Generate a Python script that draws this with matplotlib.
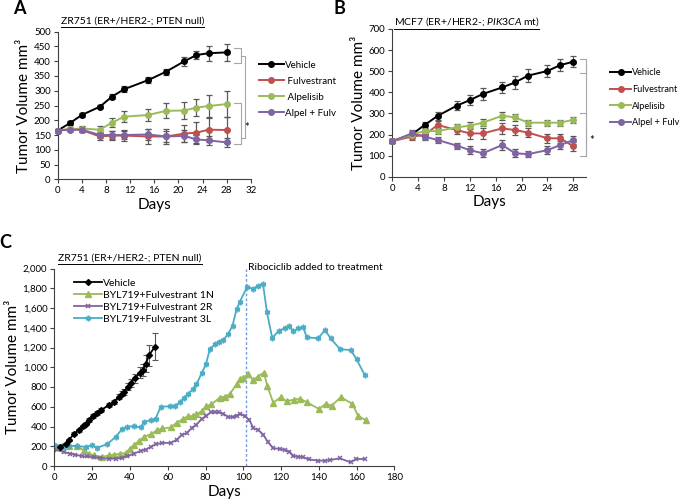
import numpy as np
import matplotlib
matplotlib.use("Agg")
import matplotlib.pyplot as plt
from matplotlib.lines import Line2D
from matplotlib.ticker import FuncFormatter

plt.rcParams['font.family'] = ['Lato', 'DejaVu Sans']
plt.rcParams['mathtext.fontset'] = 'custom'
plt.rcParams['mathtext.rm'] = 'Lato'
plt.rcParams['mathtext.it'] = 'Lato:italic'

# colours (Excel palette)
BLACK = '#000000'
RED = '#c0504d'
GREEN = '#9bbb59'
PURPLE = '#8064a2'
CYAN = '#4bacc6'
ERR = '#595959'

# ---- panel A data: ZR751
a_days = [0, 2, 4, 7, 9, 11, 15, 18, 21, 23, 25, 28]
a_vehicle = [165, 190, 218, 246, 280, 305, 336, 365, 400, 421, 427, 430]
a_vehicle_err = [5, 6, 6, 6, 8, 10, 10, 10, 15, 15, 25, 30]
a_fulv = [165, 170, 167, 145, 148, 148, 145, 145, 155, 158, 168, 167]
a_fulv_err = [5, 5, 8, 12, 15, 18, 25, 25, 30, 35, 40, 45]
a_alpel = [165, 170, 172, 168, 192, 212, 218, 232, 233, 243, 248, 255]
a_alpel_err = [5, 5, 8, 12, 15, 18, 20, 25, 28, 30, 38, 45]
a_combo = [165, 168, 168, 150, 150, 150, 152, 145, 147, 135, 132, 125]
a_combo_err = [5, 5, 8, 10, 12, 15, 18, 20, 20, 15, 15, 15]

# ---- panel B data: MCF7
b_days = [0, 3, 5, 7, 10, 12, 14, 17, 19, 21, 24, 26, 28]
b_vehicle = [168, 200, 245, 288, 337, 363, 392, 423, 447, 479, 501, 529, 545]
b_vehicle_err = [10, 12, 15, 18, 22, 25, 30, 28, 30, 32, 30, 28, 25]
b_fulv = [168, 190, 198, 245, 221, 205, 205, 229, 221, 209, 182, 182, 144]
b_fulv_err = [10, 18, 20, 20, 20, 25, 25, 25, 25, 20, 20, 20, 20]
b_alpel = [168, 200, 216, 216, 234, 242, 256, 289, 281, 256, 256, 256, 270]
b_alpel_err = [10, 12, 12, 15, 15, 15, 18, 18, 18, 15, 15, 15, 15]
b_combo = [168, 205, 190, 174, 147, 126, 111, 150, 111, 107, 126, 150, 174]
b_combo_err = [10, 15, 15, 15, 15, 18, 20, 25, 20, 15, 20, 20, 20]

ab_labels = ['Vehicle', ' Fulvestrant', ' Alpelisib', 'Alpel + Fulv']

# ---- panel C data: long-term ZR751
c_veh_days = [3, 6, 7.6, 10.6, 12.9, 15.2, 16.5, 18.2, 20.5, 22.7, 24.8, 28.8, 31.5,
              34.2, 35.7, 36.8, 38.9, 40.7, 42.5, 45.5, 46.8, 48.4, 50.1, 53.3]
c_veh = [195, 224, 261, 329, 363, 403, 430, 464, 505, 539, 566, 617, 651,
         702, 734, 750, 803, 844, 888, 945, 972, 1037, 1122, 1210]
c_veh_err = [10, 10, 12, 12, 15, 15, 15, 18, 18, 18, 20, 20, 22,
             25, 28, 30, 35, 40, 45, 55, 65, 85, 105, 137]

c_1n_days = [0, 4, 8, 12, 15.6, 18.2, 20.9, 25.3, 28.8, 31.5, 35, 37.7, 40, 42, 44.8,
             47.4, 51, 54.5, 57.2, 61.6, 64.7, 68.2, 70.9, 73.5, 75.2, 77.9, 80.5,
             83.1, 87.5, 90.2, 92.8, 96.4, 98.1, 99.8, 102.6, 105.1, 107.7, 110.9,
             112.7, 115.9, 119.7, 122.9, 126.8, 130, 133.5, 140, 143.6, 146.8,
             151.6, 157.7, 160.7, 164.8]
c_1n = [200, 205, 205, 200, 159, 125, 108, 92, 108, 115, 125, 132, 176, 210, 254,
        295, 322, 363, 380, 390, 437, 478, 505, 505, 522, 556, 607,
        624, 692, 703, 726, 828, 879, 896, 928, 869, 906, 946,
        810, 639, 697, 656, 673, 683, 646, 578, 629, 612,
        697, 629, 510, 463]

c_2r_days = [0, 5, 8.5, 11.2, 14.7, 17.3, 20.9, 24.4, 28.8, 32.4, 35.9, 38.6, 42.1,
             45.7, 48.3, 51, 53.6, 57.2, 61.6, 64.7, 67.4, 70, 72.7, 75.2, 77.9,
             80.2, 82.7, 85, 87.2, 89.4, 92, 94.3, 96.4, 98.5, 100.8, 103.1, 105.3,
             107.9, 110.6, 113.2, 115.9, 119.4, 122, 124.4, 126.5, 129.1, 131.8,
             134.5, 139.6, 143.1, 146.1, 151, 156.8, 159.8, 164.2]
c_2r = [166, 142, 125, 115, 98, 98, 92, 81, 75, 75, 81, 98, 125,
        153, 166, 193, 220, 234, 234, 265, 316, 333, 384, 418, 476,
        503, 544, 544, 544, 530, 496, 496, 510, 530, 503, 469, 384,
        367, 316, 238, 180, 173, 163, 146, 102, 95, 88,
        68, 54, 54, 61, 78, 37, 71, 71]

c_3l_days = [0, 5, 8, 12, 16.5, 20, 22.6, 28, 32.4, 35.9, 38.6, 42.1, 45.7, 47.4,
             51, 53.6, 56.3, 61.4, 63.9, 66.5, 68.6, 70.9, 73.2, 75.2, 77.9, 80.2,
             82.3, 85, 87.2, 89.4, 92, 94.3, 96.4, 98.1, 102, 105.1, 107.7, 110.4,
             112.5, 115.3, 118.8, 121.8, 124.4, 126.5, 129.1, 131.8, 133.5, 139.7,
             143.2, 146.2, 151.1, 156.9, 159.9, 164.3]
c_3l = [217, 200, 203, 203, 193, 210, 186, 220, 295, 373, 397, 403, 390, 447,
        464, 481, 600, 605, 612, 646, 690, 734, 775, 826, 938, 1030,
        1183, 1234, 1258, 1278, 1336, 1421, 1585, 1660, 1813, 1796, 1823, 1847,
        1558, 1296, 1371, 1394, 1415, 1365, 1395, 1405, 1303, 1293,
        1378, 1293, 1184, 1173, 1082, 918]

c_labels = ['Vehicle', 'BYL719+Fulvestrant 1N', 'BYL719+Fulvestrant 2R', 'BYL719+Fulvestrant 3L']
ribociclib_day = 101.5

fig = plt.figure(figsize=(6.85, 5.0), dpi=100)


def style_axes(ax):
    for s in ['top', 'right']:
        ax.spines[s].set_visible(False)
    for s in ['left', 'bottom']:
        ax.spines[s].set_color('#404040')
        ax.spines[s].set_linewidth(0.8)
    ax.tick_params(direction='out', length=3, width=0.8, color='#404040',
                   labelsize=7, pad=2)


def underlined(x, y, text, size=7.5):
    t = fig.text(x, y, text, ha='center', va='center', fontsize=size)
    fig.canvas.draw()
    bb = t.get_window_extent().transformed(fig.transFigure.inverted())
    fig.add_artist(Line2D([bb.x0, bb.x1], [bb.y0 - 0.002, bb.y0 - 0.002],
                          transform=fig.transFigure, color='black', lw=0.7))


def bracket(ax, x0, x1, ylo, yhi):
    ax.plot([x0, x1, x1, x0], [yhi, yhi, ylo, ylo], color='#a6a6a6', lw=0.8,
            clip_on=False)


def growth_panel(ax, days, series, errs):
    colors = [BLACK, RED, GREEN, PURPLE]
    handles = []
    for vals, err, col, lab in zip(series, errs, colors, ab_labels):
        ax.errorbar(days, vals, yerr=err, color=col, ecolor=ERR, elinewidth=0.9,
                    capsize=2.2, capthick=0.9, marker='o', ms=4, lw=1.4,
                    clip_on=False, zorder=3)
        handles.append(Line2D([], [], color=col, marker='o', ms=4, lw=1.4, label=lab))
    style_axes(ax)
    ax.set_xlabel('Days', fontsize=11, labelpad=2)
    ax.set_ylabel('Tumor Volume mm³', fontsize=11, labelpad=2)
    return handles


# ---- panel A
axA = fig.add_axes([0.0842, 0.6414, 0.2819, 0.2952])
hA = growth_panel(axA, a_days, [a_vehicle, a_fulv, a_alpel, a_combo],
                  [a_vehicle_err, a_fulv_err, a_alpel_err, a_combo_err])
axA.set_xlim(0, 32)
axA.set_xticks(np.arange(0, 33, 4))
axA.set_ylim(0, 500)
axA.set_yticks(np.arange(0, 501, 50))
bracket(axA, 29.2, 30.3, 395, 445)
bracket(axA, 29.2, 30.3, 120, 258)
axA.plot([30.3, 31.0, 31.0, 30.3], [418, 418, 140, 140], color='#a6a6a6', lw=0.8,
         clip_on=False)
axA.text(31.4, 176, '*', fontsize=8, ha='center', va='center')
axA.legend(handles=hA, loc='upper left', bbox_to_anchor=(1.02, 0.83), frameon=False,
           fontsize=7, handlelength=2.6, handletextpad=0.1, labelspacing=0.72,
           borderaxespad=0)

# ---- panel B
axB = fig.add_axes([0.5727, 0.6466, 0.2831, 0.2954])
hB = growth_panel(axB, b_days, [b_vehicle, b_fulv, b_alpel, b_combo],
                  [b_vehicle_err, b_fulv_err, b_alpel_err, b_combo_err])
axB.set_xlim(0, 30)
axB.set_xticks(np.arange(0, 29, 4))
axB.set_ylim(0, 700)
axB.set_yticks(np.arange(0, 701, 100))
bracket(axB, 29.0, 30.0, 492, 558)
bracket(axB, 29.0, 30.0, 98, 300)
axB.plot([30.0, 30.0], [525, 98], color='#a6a6a6', lw=0.8, clip_on=False)
axB.text(30.8, 170, '*', fontsize=8, ha='center', va='center')
axB.legend(handles=[Line2D([], [], color=h.get_color(), marker='o', ms=4, lw=1.4,
                           label=h.get_label().strip()) for h in hB],
           loc='upper left', bbox_to_anchor=(1.105, 0.76), frameon=False,
           fontsize=6.6, handlelength=2.3, handletextpad=0.1, labelspacing=0.85,
           borderaxespad=0)

# ---- panel C
axC = fig.add_axes([0.0793, 0.068, 0.4966, 0.395])
axC.errorbar(c_veh_days, c_veh, yerr=c_veh_err, color=BLACK, ecolor=ERR,
             elinewidth=0.8, capsize=2, capthick=0.8, marker='D', ms=3, lw=1.3,
             zorder=4)
axC.plot(c_1n_days, c_1n, color=GREEN, marker='^', ms=4, lw=1.3)
axC.plot(c_2r_days, c_2r, color=PURPLE, marker='x', ms=3.5, mew=1.1, lw=1.3)
axC.plot(c_3l_days, c_3l, color=CYAN, marker=(6, 2, 0), ms=4, mew=1.1, lw=1.3)
axC.axvline(ribociclib_day, color='#6f9fd8', ls=(0, (2, 1.5)), lw=1.0, zorder=1)
axC.text(ribociclib_day + 1.2, 2010, 'Ribociclib added to treatment', fontsize=7.5,
         ha='left', va='center')
style_axes(axC)
axC.set_xlim(0, 180)
axC.set_xticks(np.arange(0, 181, 20))
axC.set_ylim(0, 2000)
axC.set_yticks(np.arange(0, 2001, 200))
axC.yaxis.set_major_formatter(FuncFormatter(lambda v, p: f'{int(v):,}'))
axC.set_xlabel('Days', fontsize=11, labelpad=2)
axC.set_ylabel('Tumor Volume mm³', fontsize=11, labelpad=2)
hC = [Line2D([], [], color=BLACK, marker='D', ms=3, lw=1.3, label=c_labels[0]),
      Line2D([], [], color=GREEN, marker='^', ms=4, lw=1.3, label=c_labels[1]),
      Line2D([], [], color=PURPLE, marker='x', ms=3.5, mew=1.1, lw=1.3, label=c_labels[2]),
      Line2D([], [], color=CYAN, marker=(6, 2, 0), ms=4, mew=1.1, lw=1.3, label=c_labels[3])]
axC.legend(handles=hC, loc='upper left', bbox_to_anchor=(0.045, 0.97), frameon=False,
           fontsize=7.5, handlelength=2.7, handletextpad=0.1, labelspacing=0.25,
           borderaxespad=0)

# ---- titles and panel letters
underlined(0.193, 0.957, 'ZR751 (ER+/HER2-; PTEN null)')
underlined(0.681, 0.957, r'MCF7 (ER+/HER2-; $\mathit{PIK3CA}$ mt)')
underlined(0.19, 0.484, 'ZR751 (ER+/HER2-; PTEN null)')
fig.text(0.028, 0.984, 'A', fontsize=13, fontweight='bold', ha='center', va='center')
fig.text(0.496, 0.984, 'B', fontsize=13, fontweight='bold', ha='center', va='center')
fig.text(0.008, 0.516, 'C', fontsize=13, fontweight='bold', ha='center', va='center')

fig.savefig('out.png', dpi=100)
